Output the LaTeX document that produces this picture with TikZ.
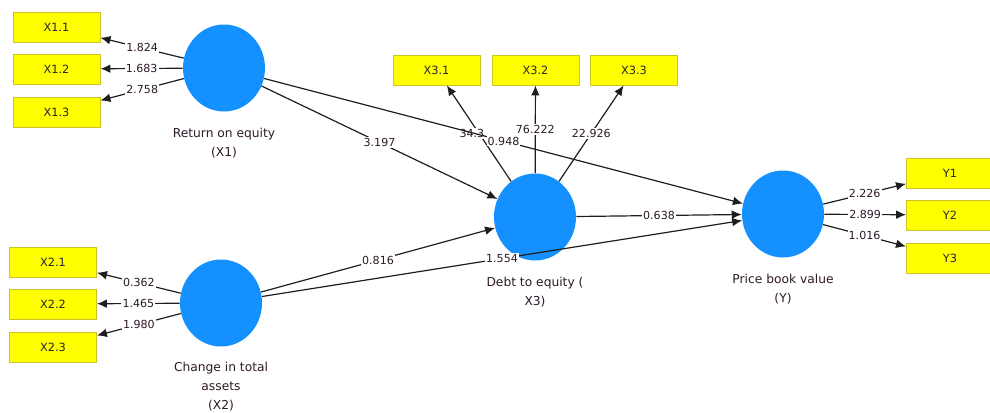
\documentclass[tikz,border=0pt]{standalone}
\usepackage{fontspec}
\setmainfont{DejaVu Sans}
\usetikzlibrary{shapes.geometric,arrows.meta}
\definecolor{lvblue}{RGB}{20,144,255}
\definecolor{mvyellow}{RGB}{255,255,0}
\definecolor{mvborder}{RGB}{205,195,40}
\definecolor{edgecol}{RGB}{30,30,30}
\definecolor{txtcol}{RGB}{45,25,40}
\begin{document}
\begin{tikzpicture}[x=0.75pt,y=-0.75pt,
  latent/.style={ellipse, fill=lvblue, draw=none, minimum width=61.5pt, minimum height=65.25pt, inner sep=0pt},
  indicator/.style={rectangle, fill=mvyellow, draw=mvborder, line width=0.7pt, minimum width=65.25pt, minimum height=22.5pt, inner sep=0pt, font=\fontsize{8.5}{9}\selectfont, text=black!85},
  lvlabel/.style={align=center, font=\fontsize{9.2}{14.25}\selectfont, text=txtcol},
  conn/.style={draw=edgecol, line width=0.9pt, -{Latex[length=7.5pt,width=6.5pt]}},
  wlabel/.style={fill=white, inner sep=0.8pt, font=\fontsize{8.3}{9}\selectfont, text=txtcol, midway}]
\useasboundingbox (0,0) rectangle (990,412);
\clip (0,0) rectangle (990,412);

% latent variables
\node[latent] (x1) at (224,68) {};
\node[latent] (x2) at (221,303) {};
\node[latent] (x3) at (535,217) {};
\node[latent] (y)  at (783,214) {};

\node[lvlabel] (lx1) at (224,143) {Return on equity\\(X1)};
\node[lvlabel] (lx2) at (221,387) {Change in total\\assets\\(X2)};
\node[lvlabel] (lx3) at (535,292.5) {Debt to equity (\\X3)};
\node[lvlabel] (ly)  at (783,289.5) {Price book value\\(Y)};

% indicators
\node[indicator] (x11) at (56.5,27) {X1.1};
\node[indicator] (x12) at (56.5,69) {X1.2};
\node[indicator] (x13) at (56.5,112) {X1.3};
\node[indicator] (x21) at (53,262) {X2.1};
\node[indicator] (x22) at (53,304) {X2.2};
\node[indicator] (x23) at (53,347) {X2.3};
\node[indicator] (x31) at (436.5,70) {X3.1};
\node[indicator] (x32) at (535.5,70) {X3.2};
\node[indicator] (x33) at (634,70) {X3.3};
\node[indicator] (y1) at (950,173) {Y1};
\node[indicator] (y2) at (950,215) {Y2};
\node[indicator] (y3) at (950,258) {Y3};

% outer loadings
\draw[conn] (x1) -- (x11) node[wlabel] {1.824};
\draw[conn] (x1) -- (x12) node[wlabel] {1.683};
\draw[conn] (x1) -- (x13) node[wlabel] {2.758};
\draw[conn] (x2) -- (x21) node[wlabel] {0.362};
\draw[conn] (x2) -- (x22) node[wlabel] {1.465};
\draw[conn] (x2) -- (x23) node[wlabel] {1.980};
\draw[conn] (y) -- (y1) node[wlabel] {2.226};
\draw[conn] (y) -- (y2) node[wlabel] {2.899};
\draw[conn] (y) -- (y3) node[wlabel] {1.016};

% structural paths
\draw[conn] (x1) -- (x3) node[wlabel] {3.197};
\draw[conn] (x2) -- (x3) node[wlabel] {0.816};
\draw[conn] (x2) -- (y) node[wlabel] {1.554};
\draw[conn] (x3) -- (y) node[wlabel] {0.638};

% X3 indicators
\draw[conn] (x3) -- (x31) node[wlabel] {34.3\phantom{00}};
\draw[conn] (x3) -- (x32) node[wlabel] {76.222};
\draw[conn] (x3) -- (x33) node[wlabel] {22.926};

% X1 -> Y drawn last
\draw[conn] (x1) -- (y) node[wlabel] {0.948};
\end{tikzpicture}
\end{document}
